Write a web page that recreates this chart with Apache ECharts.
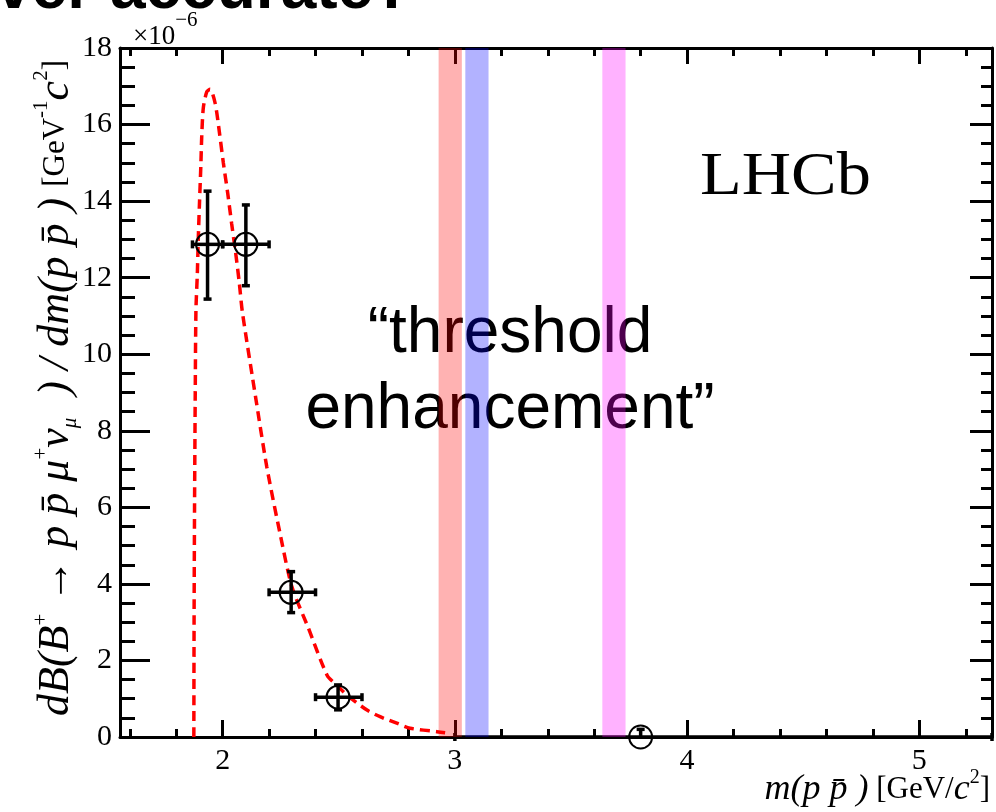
<!DOCTYPE html>
<html>
<head>
<meta charset="utf-8">
<script src="https://cdn.jsdelivr.net/npm/echarts@6/dist/echarts.min.js"></script>
<style>
  html, body { margin: 0; padding: 0; background: #ffffff; }
  #chart { width: 996px; height: 812px; }
</style>
</head>
<body>
<div id="chart"></div>
<script>
// Differential branching fraction of B+ -> p pbar mu+ nu, in units of 1e-6 per GeV/c^2
const binCentre = [1.935, 2.100, 2.295, 2.497, 3.800];
const binLow    = [1.870, 2.000, 2.200, 2.400, 3.000];
const binHigh   = [2.000, 2.200, 2.400, 2.600, 5.313];
const rate      = [12.87, 12.87, 3.78, 1.04, 0.00];
const rateLow   = [11.44, 11.79, 3.25, 0.71, 0.00];
const rateHigh  = [14.26, 13.90, 4.32, 1.36, 0.20];

// Model prediction (dashed curve)
const curveMass = [1.876, 1.877, 1.879, 1.882, 1.885, 1.891, 1.895, 1.900, 1.906, 1.910,
                   1.917, 1.932, 1.946, 1.968, 1.986, 2.003, 2.022, 2.039, 2.056, 2.072,
                   2.085, 2.144, 2.190, 2.247, 2.298, 2.369, 2.451, 2.491, 2.534, 2.620,
                   2.678, 2.750, 2.807, 2.922, 2.958];
const curveRate = [0.00, 3.00, 6.00, 9.00, 11.15, 12.10, 13.00, 13.90, 14.90, 15.70,
                   16.45, 16.86, 16.92, 16.55, 15.80, 15.00, 14.20, 13.40, 12.65, 11.85,
                   11.10, 8.80, 7.06, 5.32, 3.93, 2.85, 1.60, 1.36, 1.10, 0.71,
                   0.53, 0.36, 0.23, 0.14, 0.11];

// Charmonium windows in m(p pbar)
const windowLow  = [2.930, 3.045, 3.635];
const windowHigh = [3.030, 3.145, 3.735];

// Axis ticks
const massMin = 1.558, massMax = 5.313;
const massMajorTicks = [2, 3, 4, 5];
const massMinorTicks = [1.6, 1.8, 2.2, 2.4, 2.6, 2.8, 3.2, 3.4, 3.6, 3.8, 4.2, 4.4, 4.6, 4.8, 5.2];
const rateMin = 0, rateMax = 18, rateStep = 2;

const windowFill = ['rgba(255,0,0,0.3)', 'rgba(0,0,255,0.3)', 'rgba(255,0,255,0.3)'];
const SERIF = '"Liberation Serif", "DejaVu Serif", serif';
const SANS = '"Liberation Sans", Arial, sans-serif';

const pointData = binCentre.map((m, i) => [m, rate[i], binLow[i], binHigh[i], rateLow[i], rateHigh[i]]);
const curveData = curveMass.map((m, i) => [m, curveRate[i]]);
const windowData = windowLow.map((lo, i) => [lo, windowHigh[i], i]);

function renderPoint(params, api) {
  const c = api.coord([api.value(0), api.value(1)]);
  const l = api.coord([api.value(2), api.value(1)]);
  const r = api.coord([api.value(3), api.value(1)]);
  const lo = api.coord([api.value(0), api.value(4)]);
  const hi = api.coord([api.value(0), api.value(5)]);
  const st = { stroke: '#000', lineWidth: 3.5, fill: null };
  const cap = 4;
  const kids = [];
  const seg = (x1, y1, x2, y2) => kids.push({ type: 'line', shape: { x1, y1, x2, y2 }, style: st });
  if (Math.abs(hi[1] - lo[1]) > 0.5) {
    seg(c[0], lo[1], c[0], hi[1]);
    seg(c[0] - cap, hi[1], c[0] + cap, hi[1]);
    if (api.value(4) > 0) seg(c[0] - cap, lo[1], c[0] + cap, lo[1]);
  }
  seg(l[0], c[1], r[0], c[1]);
  seg(l[0], c[1] - cap, l[0], c[1] + cap);
  seg(r[0], c[1] - cap, r[0], c[1] + cap);
  kids.push({ type: 'circle', shape: { cx: c[0], cy: c[1], r: 11.5 },
              style: { stroke: '#000', lineWidth: 2, fill: null } });
  return { type: 'group', children: kids };
}

function renderWindow(params, api) {
  const a = api.coord([api.value(0), rateMax]);
  const b = api.coord([api.value(1), rateMin]);
  return { type: 'rect', shape: { x: a[0], y: a[1], width: b[0] - a[0], height: b[1] - a[1] },
           style: { fill: windowFill[api.value(2)] } };
}

const frame = { show: true, lineStyle: { color: '#000', width: 3 } };
const noLabel = { show: false };
const noSplit = { show: false };

function massAxis(position, ticks, length, showLine, labels) {
  return {
    type: 'value', position, min: massMin, max: massMax,
    axisLine: showLine ? frame : { show: false },
    axisTick: { show: true, inside: true, length, customValues: ticks,
                lineStyle: { color: '#000', width: 3 } },
    axisLabel: labels ? { show: true, customValues: massMajorTicks, margin: 9,
                          color: '#000', fontSize: 30, fontFamily: SERIF } : noLabel,
    splitLine: noSplit
  };
}

function rateAxis(position, major, minor, labels) {
  return {
    type: 'value', position, min: rateMin, max: rateMax, interval: rateStep,
    axisLine: frame,
    axisTick: { show: true, inside: true, length: major, lineStyle: { color: '#000', width: 3 } },
    minorTick: { show: true, splitNumber: 4, length: minor, lineStyle: { color: '#000', width: 3 } },
    axisLabel: labels ? { show: true, margin: 8, color: '#000', fontSize: 30, fontFamily: SERIF } : noLabel,
    splitLine: noSplit
  };
}

// Rich-text styles for the axis titles
const titleRich = (it, rm, sm, lh) => ({
  i: { fontFamily: SERIF, fontStyle: 'italic', fontSize: it, lineHeight: lh, color: '#000' },
  r: { fontFamily: SERIF, fontSize: rm, lineHeight: lh, color: '#000' },
  s: { fontFamily: SERIF, fontSize: sm, lineHeight: lh, verticalAlign: 'top', color: '#000' },
  u: { fontFamily: SERIF, fontStyle: 'italic', fontSize: sm, lineHeight: lh, verticalAlign: 'bottom', color: '#000' }
});

const chart = echarts.init(document.getElementById('chart'), null, { renderer: 'canvas' });
chart.setOption({
  animation: false,
  backgroundColor: '#ffffff',
  grid: { left: 120, top: 48, width: 872, height: 689, containLabel: false },
  xAxis: [
    massAxis('bottom', massMajorTicks, 17, true, true),
    massAxis('bottom', massMinorTicks, 8, false, false),
    massAxis('top', massMajorTicks, 16, true, false),
    massAxis('top', massMinorTicks, 8, false, false)
  ],
  yAxis: [
    rateAxis('left', 30, 15, true),
    rateAxis('right', 22, 11, false)
  ],
  series: [
    {
      type: 'line', data: curveData, showSymbol: false, smooth: 0.25,
      lineStyle: { color: '#ff0000', width: 3.5, type: [10, 6] }, z: 3
    },
    { type: 'custom', data: pointData, renderItem: renderPoint, clip: false, z: 4 },
    { type: 'custom', data: windowData, renderItem: renderWindow, z: 10 }
  ],
  graphic: [
    { type: 'text', x: -4, y: 22, z: 0,
      style: { text: 'ver accurate?', font: 'bold 64px ' + SANS, fill: '#000',
               align: 'left', verticalAlign: 'bottom' } },
    { type: 'text', x: 133, y: 30, z: 1,
      style: { text: '{r|×10}{s|−6}', align: 'left', verticalAlign: 'middle',
               rich: {
                 r: { fontFamily: SERIF, fontSize: 27, lineHeight: 40, verticalAlign: 'bottom', color: '#000' },
                 s: { fontFamily: SERIF, fontSize: 21, lineHeight: 40, verticalAlign: 'top', color: '#000' }
               } } },
    { type: 'text', x: 700, y: 178, z: 0, scaleX: 1.12,
      style: { text: 'LHCb', font: '61px ' + SERIF, fill: '#000', align: 'left', verticalAlign: 'middle' } },
    { type: 'text', x: 510, y: 372, z: 0,
      style: { text: '“threshold\nenhancement”', font: '64px ' + SANS, lineHeight: 76, fill: '#000',
               align: 'center', verticalAlign: 'middle' } },
    { type: 'text', x: 990, y: 790, z: 0,
      style: {
        text: '{i|m(p p̄ )}{r| [GeV/}{i|c}{s|2}{r|]}',
        align: 'right', verticalAlign: 'middle', rich: titleRich(36, 31, 20, 44)
      } },
    { type: 'text', x: 56, y: 388, rotation: Math.PI / 2, z: 0,
      style: {
        text: '{i|dB(B}{s|+}{i| → p p̄ μ}{s|+}{i|ν}{u|μ}{i|  ) / dm(p p̄ ) }{r|[GeV}{s|-1}{i|c}{s|2}{r|]}',
        align: 'center', verticalAlign: 'middle', rich: titleRich(44, 31, 21, 50)
      } }
  ]
});
</script>
</body>
</html>
